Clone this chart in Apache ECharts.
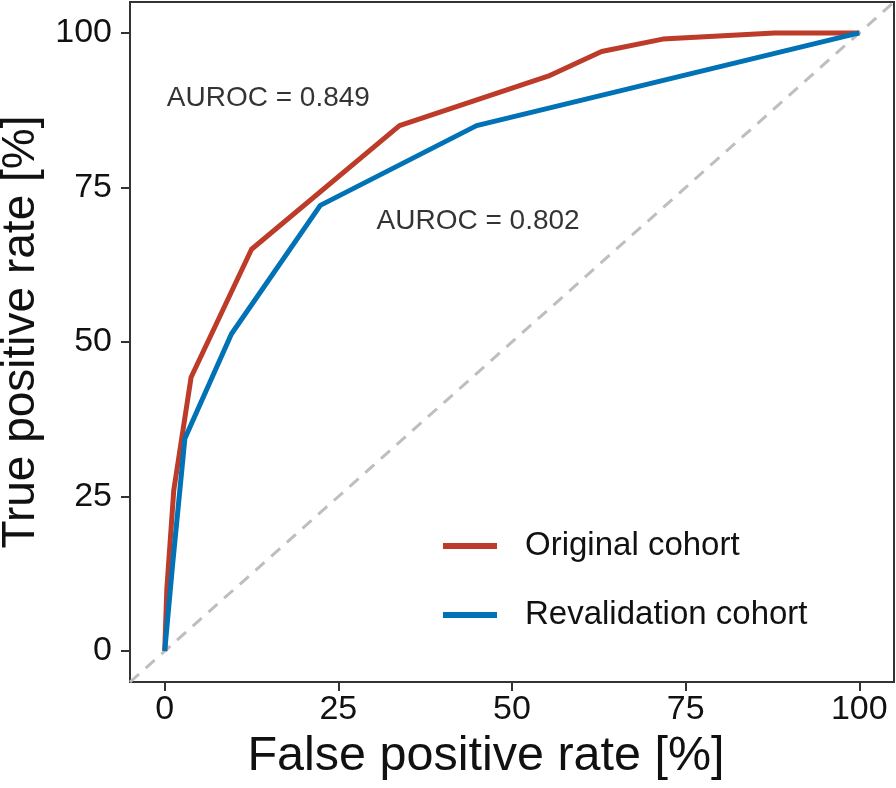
<!DOCTYPE html>
<html><head><meta charset="utf-8">
<script src="https://cdn.jsdelivr.net/npm/echarts@6/dist/echarts.min.js"></script>
<style>html,body{margin:0;padding:0;background:#fff}#c{width:896px;height:788px}</style>
</head><body><div id="c"></div>
<script>
const tickValues = [0, 25, 50, 75, 100];
const originalFPR = [0, 0.3, 1.3, 3.8, 12.5, 33.8, 55.2, 62.9, 71.7, 87.8, 100];
const originalTPR = [0, 10, 26, 44.3, 65, 85, 93, 97, 99, 100, 100];
const revalFPR = [0, 1.1, 2.9, 9.6, 22.4, 44.9, 100];
const revalTPR = [0, 13.6, 34.4, 51.3, 72.1, 85, 100];
const diagonal = [-5, 105];
const seriesNames = ['Original cohort', 'Revalidation cohort'];
const annotations = [
  {text: 'AUROC = 0.849', x: 0.3, y: 89.5},
  {text: 'AUROC = 0.802', x: 30.5, y: 69.6}
];
const colors = ['#BC3C29', '#0072B5'];
const font = '"Liberation Sans", Arial, sans-serif';

const zip = (a, b) => a.map((v, i) => [v, b[i]]);
const chart = echarts.init(document.getElementById('c'));
const axisCommon = {
  type: 'value', min: -5, max: 105,
  axisLine: {show: false, onZero: false},
  splitLine: {show: false},
  axisTick: {show: true, length: 9, customValues: tickValues, lineStyle: {color: '#333', width: 2}},
  axisLabel: {customValues: tickValues, color: '#111', fontSize: 34, fontFamily: font},
  nameLocation: 'middle'
};
chart.setOption({
  animation: false,
  grid: {left: 130, right: 2, top: 2, bottom: 106, show: true, borderColor: '#333', borderWidth: 2,
    backgroundColor: '#fff', containLabel: false, outerBoundsMode: 'none'},
  xAxis: Object.assign({}, axisCommon, {name: 'False positive rate [%]', nameGap: 48,
    nameTextStyle: {color: '#111', fontSize: 48.5, fontFamily: font, padding: [0, 52, 0, 0]},
    axisLabel: Object.assign({}, axisCommon.axisLabel, {margin: 11})}),
  yAxis: Object.assign({}, axisCommon, {name: 'True positive rate [%]', nameGap: 80,
    nameTextStyle: {color: '#111', fontSize: 46, fontFamily: font, padding: [0, 0, 0, 20]},
    axisLabel: Object.assign({}, axisCommon.axisLabel, {margin: 18})}),
  legend: {
    orient: 'vertical', left: 443, top: 527, padding: 0,
    data: seriesNames, icon: 'rect', itemWidth: 54, itemHeight: 6, itemGap: 31,
    textStyle: {fontSize: 33, fontFamily: font, color: '#111', lineHeight: 38, padding: [0, 0, 0, 23]}
  },
  series: [
    {type: 'line', name: 'diag', data: zip(diagonal, diagonal), symbol: 'none', silent: true,
     lineStyle: {color: '#BEBEBE', width: 3, type: [12, 9]}, z: 1},
    {type: 'line', name: seriesNames[0], data: zip(originalFPR, originalTPR), symbol: 'none',
     color: colors[0], lineStyle: {color: colors[0], width: 5, join: 'round'}, z: 2},
    {type: 'line', name: seriesNames[1], data: zip(revalFPR, revalTPR), symbol: 'none',
     color: colors[1], lineStyle: {color: colors[1], width: 5, join: 'round'}, z: 3},
    {type: 'scatter', name: 'ann', symbolSize: 0, silent: true,
     data: annotations.map(a => ({value: [a.x, a.y], label: {formatter: a.text}})),
     label: {show: true, position: 'inside', align: 'left', verticalAlign: 'middle',
       fontSize: 28, fontFamily: font, color: '#000'}}
  ]
});
</script></body></html>
